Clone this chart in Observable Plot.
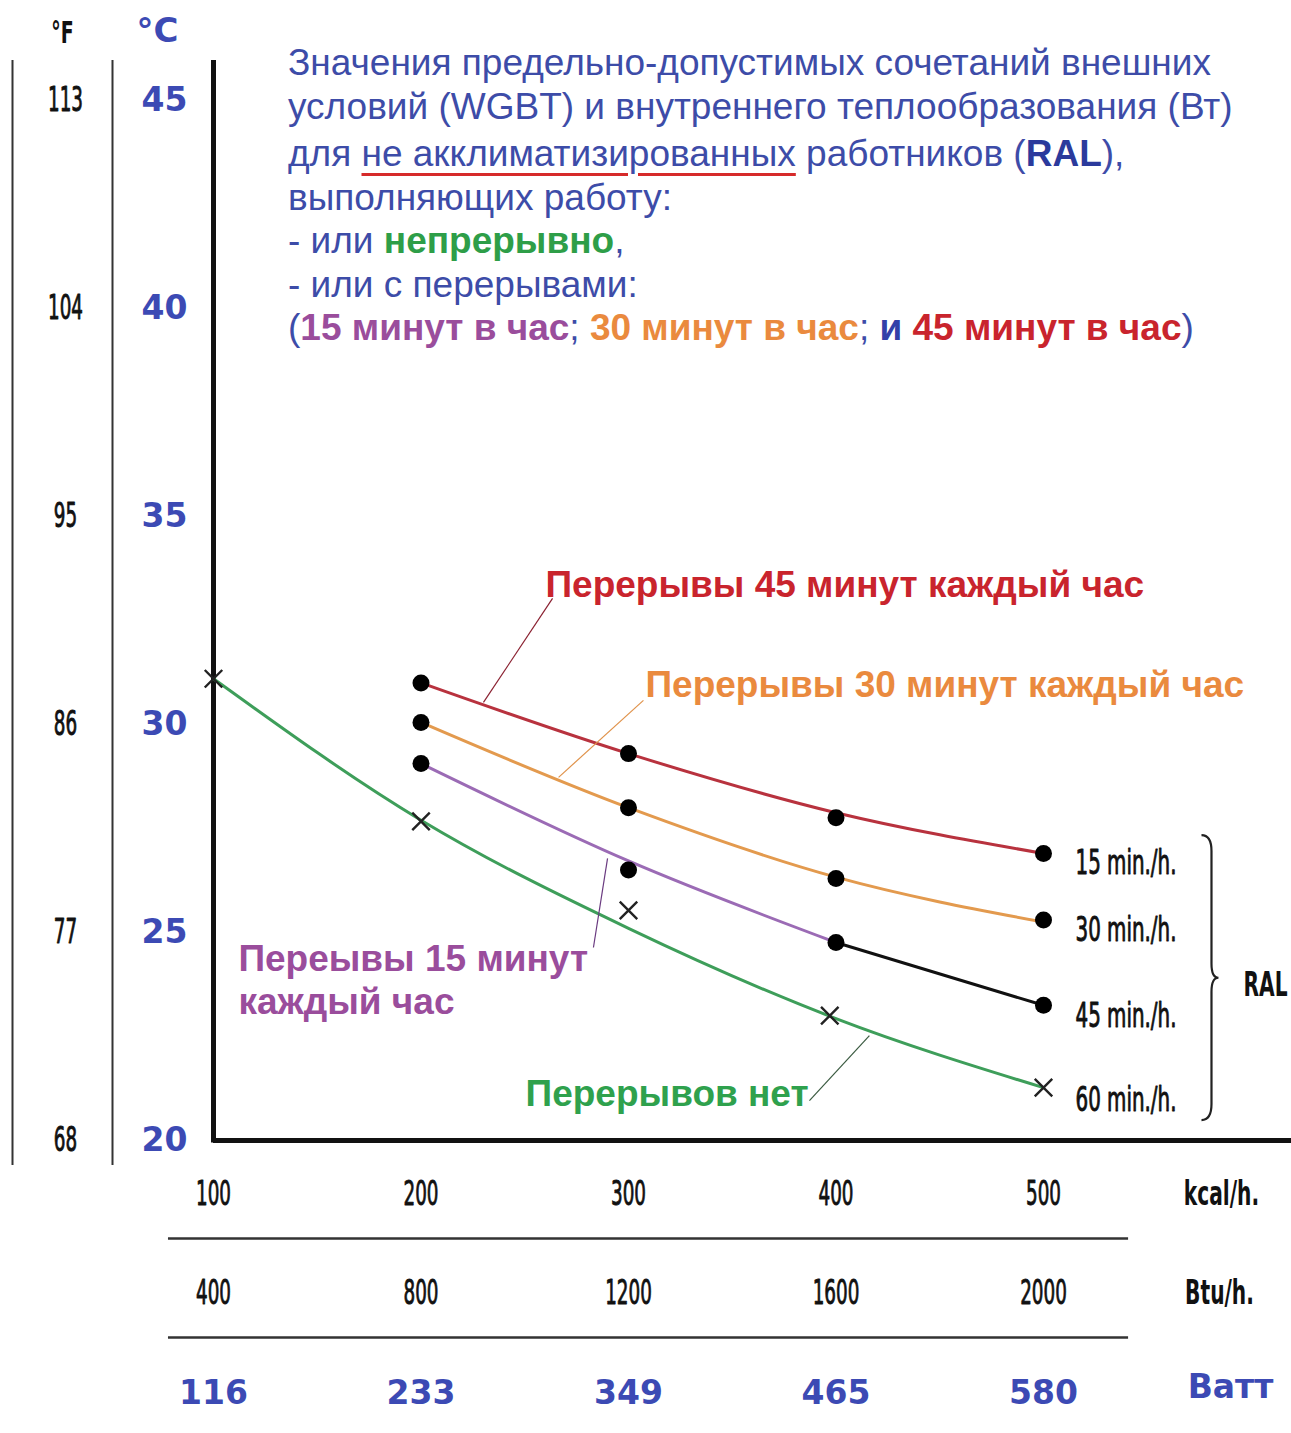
<!DOCTYPE html>
<html><head><meta charset="utf-8">
<script src="https://cdn.jsdelivr.net/npm/d3@7"></script>
<script src="https://cdn.jsdelivr.net/npm/@observablehq/plot@0.6"></script>
<style>
body{margin:0;background:#fff}
#wrap{position:relative;width:1291px;height:1433px;overflow:hidden;background:#fff}
#title{position:absolute;left:288px;top:41px;font-family:"Liberation Sans",Arial,sans-serif;font-size:37px;line-height:43.5px;color:#3d4ca8;white-space:nowrap}
#title b{font-weight:bold}
.ul{text-decoration:underline;text-decoration-color:#d62a2a;text-decoration-thickness:3px;text-underline-offset:7px}
</style></head>
<body><div id="wrap"><div id="chart"></div>
<div id="title">
<div>Значения предельно-допустимых сочетаний внешних</div>
<div>условий (WGBT) и внутреннего теплообразования (Вт)</div>
<div style="margin-top:4px">для <span class="ul">не акклиматизированных</span> работников (<b style="color:#2b3a9c">RAL</b>),</div>
<div>выполняющих работу:</div>
<div>- или <b style="color:#2e9e48">непрерывно</b>,</div>
<div>- или с перерывами:</div>
<div>(<b style="color:#9a4d9c">15 минут в час</b>; <b style="color:#ea8a3e">30 минут в час</b>; <b style="color:#3340a8">и</b> <b style="color:#c9242d">45 минут в час</b>)</div>
</div>
</div>
<script>
// ---- axis ticks ----
const celsiusTicks = [20, 25, 30, 35, 40, 45];
const fahrenheitLabels = ["68", "77", "86", "95", "104", "113"];
const kcalTicks = [100, 200, 300, 400, 500];
const btuLabels = ["400", "800", "1200", "1600", "2000"];
const wattLabels = ["116", "233", "349", "465", "580"];

// ---- series ----
const breakKcal = [200, 300, 400, 500];
const break45Curve = [31.0, 29.3, 27.88, 26.9];
const break45Dots = [31.0, 29.3, 27.76, 26.9];
const break30Curve = [30.05, 28.0, 26.33, 25.25];
const break30Dots = [30.05, 28.0, 26.3, 25.3];
const break15CurveKcal = [200, 300, 400];
const break15Curve = [29.06, 26.72, 24.76];
const break15TailKcal = [400, 500];
const break15Tail = [24.76, 23.25];
const break15Dots = [29.06, 26.5, 24.76, 23.25];
const noBreakKcal = [100, 200, 300, 400, 500];
const noBreakCurve = [31.1, 27.7, 25.1, 22.93, 21.27];
const noBreakMarkKcal = [100, 200, 300, 397, 500];
const noBreakMarks = [31.1, 27.67, 25.53, 23.0, 21.27];

// ---- annotations ----
const curveLabels = ["Перерывы 45 минут каждый час", "Перерывы 30 минут каждый час", "Переывы 15 минут\nкаждый час", "Перерывов нет"];
const curveLabelKcal = [260, 308.2, 112, 250.4];
const curveLabelTemp = [33.39, 30.99, 23.88, 21.15];
const curveLabelColors = ["#c9242d", "#ea8a3e", "#9a4d9c", "#2fa14d"];
const leaderKcal1 = [263.4, 307.2, 289.9, 387.2];
const leaderTemp1 = [33.03, 30.58, 26.78, 20.96];
const leaderKcal2 = [230.1, 266.3, 283.1, 416.1];
const leaderTemp2 = [30.53, 28.73, 24.64, 22.52];
const leaderColors = ["#8a2030", "#e0924a", "#6a3a80", "#3a5a40"];
const ralLabels = ["15 min./h.", "30 min./h.", "45 min./h.", "60 min./h."];
const ralLabelTemp = [26.68, 25.05, 23.0, 20.96];

const cond = "'DejaVu Sans Condensed','DejaVu Sans',sans-serif";
const wide = "'DejaVu Sans',sans-serif";
const idx = (a) => a.map((_, i) => i);
const mid = {textAnchor: "middle", lineAnchor: "middle"};
const squeeze = (s) => () => "sq" + s;   // tag for horizontal condensing
const condReg = {fontFamily: cond, fontSize: 34, fill: "#111", stroke: "#111", strokeWidth: 0.9};

const plot = Plot.plot({
  width: 1291, height: 1433,
  marginLeft: 213, marginRight: 248, marginTop: 100, marginBottom: 293,
  x: {domain: [100, 500], axis: null},
  y: {domain: [20, 45], axis: null},
  color: {type: "identity"},
  style: {background: "white", overflow: "visible"},
  marks: [
    // left scale separators
    Plot.ruleX([100], {dx: -201, y1: 45.96, y2: 19.4, stroke: "#333", strokeWidth: 2}),
    Plot.ruleX([100], {dx: -101, y1: 45.96, y2: 19.4, stroke: "#333", strokeWidth: 2}),
    // main axes
    Plot.ruleX([100], {y1: 19.94, y2: 45.96, stroke: "#111", strokeWidth: 5}),
    Plot.ruleY([20], {x1: 100, x2: 620, stroke: "#111", strokeWidth: 5}),
    // bottom row separators
    Plot.ruleY([20], {dy: 98, x1: 78.3, x2: 541, stroke: "#333", strokeWidth: 2.5}),
    Plot.ruleY([20], {dy: 197, x1: 78.3, x2: 541, stroke: "#333", strokeWidth: 2.5}),
    // headers
    Plot.text(["°F"], {...mid, frameAnchor: "top-left", dx: -151, dy: -67, fontFamily: cond, fontWeight: "bold", fontSize: 30, fill: "#111", ariaLabel: squeeze(0.7)}),
    Plot.text(["°C"], {...mid, frameAnchor: "top-left", dx: -56, dy: -69, fontFamily: wide, fontWeight: "bold", fontSize: 34, fill: "#3c4ab4"}),
    // left tick labels
    Plot.text(fahrenheitLabels, {...mid, ...condReg, y: celsiusTicks, frameAnchor: "left", dx: -148, ariaLabel: squeeze(0.6)}),
    Plot.text(celsiusTicks, {...mid, y: celsiusTicks, frameAnchor: "left", dx: -49, fontFamily: wide, fontWeight: "bold", fontSize: 33, fill: "#3c4ab4"}),
    // bottom tick labels
    Plot.text(kcalTicks, {...mid, ...condReg, x: kcalTicks, frameAnchor: "bottom", dy: 54, ariaLabel: squeeze(0.6)}),
    Plot.text(btuLabels, {...mid, ...condReg, x: kcalTicks, frameAnchor: "bottom", dy: 153, ariaLabel: squeeze(0.6)}),
    Plot.text(wattLabels, {...mid, x: kcalTicks, frameAnchor: "bottom", dy: 253, fontFamily: wide, fontWeight: "bold", fontSize: 33, fill: "#3c4ab4"}),
    Plot.text(["kcal/h."], {...mid, frameAnchor: "bottom-right", dx: 178, dy: 54, fontFamily: cond, fontWeight: "bold", fontSize: 33, fill: "#111", ariaLabel: squeeze(0.68)}),
    Plot.text(["Btu/h."], {...mid, frameAnchor: "bottom-right", dx: 176, dy: 153, fontFamily: cond, fontWeight: "bold", fontSize: 33, fill: "#111", ariaLabel: squeeze(0.68)}),
    Plot.text(["Ватт"], {...mid, frameAnchor: "bottom-right", dx: 187, dy: 247, fontFamily: wide, fontWeight: "bold", fontSize: 33, fill: "#3c4ab4"}),
    // curves
    Plot.line(noBreakKcal, {x: noBreakKcal, y: noBreakCurve, curve: "monotone-x", stroke: "#3e9e5a", strokeWidth: 3}),
    Plot.line(breakKcal, {x: breakKcal, y: break45Curve, curve: "monotone-x", stroke: "#b8323e", strokeWidth: 3}),
    Plot.line(breakKcal, {x: breakKcal, y: break30Curve, curve: "monotone-x", stroke: "#e39a4e", strokeWidth: 3}),
    Plot.line(break15CurveKcal, {x: break15CurveKcal, y: break15Curve, curve: "monotone-x", stroke: "#9b6bb5", strokeWidth: 3}),
    Plot.line(break15TailKcal, {x: break15TailKcal, y: break15Tail, stroke: "#111", strokeWidth: 3}),
    // leaders
    Plot.link(idx(leaderKcal1), {x1: leaderKcal1, y1: leaderTemp1, x2: leaderKcal2, y2: leaderTemp2, stroke: leaderColors, strokeWidth: 1.2}),
    // points
    Plot.dot(breakKcal, {x: breakKcal, y: break45Dots, r: 8.5, fill: "#000"}),
    Plot.dot(breakKcal, {x: breakKcal, y: break30Dots, r: 8.5, fill: "#000"}),
    Plot.dot(breakKcal, {x: breakKcal, y: break15Dots, r: 8.5, fill: "#000"}),
    Plot.dot(noBreakMarkKcal, {x: noBreakMarkKcal, y: noBreakMarks, symbol: "times", r: 8, stroke: "#222", strokeWidth: 2.4}),
    // curve labels
    Plot.text(curveLabels, {x: curveLabelKcal, y: curveLabelTemp, textAnchor: "start", lineAnchor: "middle", fontFamily: "'Liberation Sans',Arial,sans-serif", fontWeight: "bold", fontSize: 37, lineHeight: 1.16, fill: curveLabelColors}),
    // RAL labels
    Plot.text(ralLabels, {...condReg, y: ralLabelTemp, frameAnchor: "right", dx: 32, textAnchor: "start", lineAnchor: "middle", ariaLabel: squeeze(0.65)}),
    Plot.text(["RAL"], {y: [23.73], frameAnchor: "right", dx: 200, textAnchor: "start", lineAnchor: "middle", fontFamily: cond, fontWeight: "bold", fontSize: 33, fill: "#111", ariaLabel: squeeze(0.68)})
  ]
});

document.getElementById("chart").appendChild(plot);

const svg = d3.select(plot);
// horizontally condense the narrow-font texts (reference uses a condensed face)
svg.selectAll("text").each(function() {
  const tag = this.getAttribute("aria-label") || "";
  if (!tag.startsWith("sq")) return;
  const s = +tag.slice(2);
  const t = this.getAttribute("transform") || "";
  this.setAttribute("transform", `${t} scale(${s},1)`);
});

// brace decoration
const X = plot.scale("x"), Y = plot.scale("y");
const bx = X.apply(581.2), by0 = Y.apply(27.33), by1 = Y.apply(20.48), bm = Y.apply(23.9);
svg.append("path")
  .attr("d", `M${bx-10},${by0} Q${bx},${by0} ${bx},${by0+16} L${bx},${bm-14} Q${bx},${bm} ${bx+7},${bm} Q${bx},${bm} ${bx},${bm+14} L${bx},${by1-16} Q${bx},${by1} ${bx-10},${by1}`)
  .attr("fill", "none").attr("stroke", "#222").attr("stroke-width", 2.2);
</script>
</body></html>
